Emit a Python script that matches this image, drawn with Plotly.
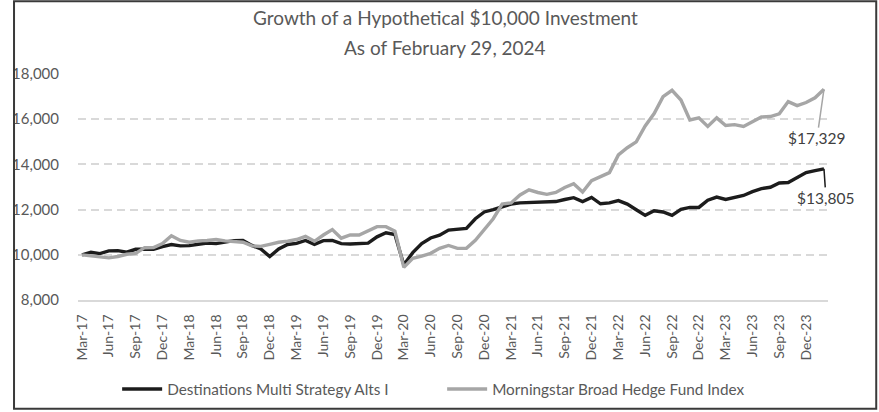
import pandas as pd
import plotly.graph_objects as go

months = [d.strftime("%b-%y") for d in pd.date_range("2017-03-01", "2024-02-01", freq="MS")]

fund_name = "Destinations Multi Strategy Alts I"
index_name = "Morningstar Broad Hedge Fund Index"

fund_values = [
    10000, 10120, 10060, 10180, 10190, 10120, 10250, 10240, 10250, 10370,
    10460, 10400, 10410, 10470, 10520, 10500, 10560, 10630, 10640, 10420,
    10260, 9930, 10260, 10460, 10510, 10640, 10470, 10630, 10640, 10500,
    10480, 10500, 10520, 10800, 10980, 10900, 9560, 10100, 10500, 10750,
    10870, 11100, 11150, 11170, 11600, 11900, 12000, 12140, 12250, 12300,
    12320, 12330, 12330, 12360, 12450, 12530, 12360, 12540, 12260, 12300,
    12400, 12250, 12000, 11750, 11950, 11900, 11750, 12020, 12100, 12100,
    12420, 12560, 12450, 12550, 12630, 12800, 12930, 12990, 13180, 13200,
    13420, 13640, 13730, 13805,
]

index_values = [
    10000, 9960, 9940, 9870, 9930, 10030, 10070, 10320, 10330, 10500,
    10850, 10640, 10560, 10620, 10640, 10680, 10620, 10580, 10560, 10400,
    10380, 10470, 10560, 10610, 10680, 10820, 10600, 10880, 11120, 10740,
    10880, 10880, 11080, 11250, 11250, 11050, 9450, 9850, 9950, 10070,
    10290, 10420, 10290, 10290, 10650, 11130, 11600, 12250, 12300, 12650,
    12880, 12760, 12680, 12760, 12980, 13150, 12780, 13280, 13460, 13640,
    14420, 14740, 15000, 15700, 16250, 17000, 17280, 16850, 15970, 16060,
    15680, 16060, 15720, 15760, 15680, 15900, 16100, 16120, 16240, 16780,
    16600, 16740, 16950, 17329,
]

tick_labels = months[0:82:3]
y_ticks = [8000, 10000, 12000, 14000, 16000, 18000]
title_lines = ["Growth of a Hypothetical $10,000 Investment", "As of February 29, 2024"]

FONT = "Lato"
TXT = "#595959"
GRID = "#d9d9d9"

fig = go.Figure()
fig.add_trace(go.Scatter(x=months, y=fund_values, mode="lines", name=fund_name,
                         line=dict(color="#1c1c1c", width=3.4)))
fig.add_trace(go.Scatter(x=months, y=index_values, mode="lines", name=index_name,
                         line=dict(color="#a6a6a6", width=3.4)))

L, R, T, B = 66, 51, 74, 111
W, H = 879, 412
pw, ph = W - L - R, H - T - B

def px_to_paper_x(px):
    return (px - L) / pw

def px_to_paper_y(py):
    return (H - B - py) / ph

fig.update_layout(
    width=W, height=H,
    margin=dict(l=L, r=R, t=T, b=B),
    paper_bgcolor="white", plot_bgcolor="white",
    font=dict(family=FONT, color=TXT, size=14),
    showlegend=True,
    legend=dict(orientation="h", x=0.503, xref="container", xanchor="center",
                y=1 - 389 / H, yref="container", yanchor="middle",
                font=dict(family=FONT, size=15.3, color=TXT),
                itemwidth=40, entrywidth=270, tracegroupgap=0, bgcolor="rgba(0,0,0,0)"),
    xaxis=dict(type="category", range=[-0.45, len(months) - 1 + 0.45],
               tickmode="array", tickvals=tick_labels, ticktext=tick_labels,
               tickangle=-90, tickfont=dict(family=FONT, size=14, color=TXT),
               showgrid=False, showline=True, linecolor=GRID, linewidth=1.5,
               ticks="", ticklabelstandoff=7, zeroline=False),
    yaxis=dict(range=[8000, 18000], tickvals=y_ticks, tickformat=",",
               tickfont=dict(family=FONT, size=15, color=TXT),
               showgrid=True, gridcolor=GRID, gridwidth=1.5, griddash="8px,5px",
               zeroline=False, showline=False,
               ticks="outside", ticklen=15, tickcolor="rgba(0,0,0,0)"),
)

for line, ypx in zip(title_lines, [17, 47]):
    fig.add_annotation(text=line, xref="paper", yref="paper",
                       x=px_to_paper_x(439), y=px_to_paper_y(ypx),
                       xanchor="center", yanchor="middle", showarrow=False,
                       font=dict(family=FONT, size=19, color=TXT))

fig.add_annotation(x=months[-1], y=index_values[-1], text="$17,329", showarrow=True,
                   arrowhead=0, arrowwidth=1.5, arrowcolor="#a6a6a6", ax=-7, ay=49,
                   font=dict(family=FONT, size=15.5, color="#404040"))
fig.add_annotation(x=months[-1], y=fund_values[-1], text="$13,805", showarrow=True,
                   arrowhead=0, arrowwidth=1.5, arrowcolor="#1c1c1c", ax=2, ay=29,
                   font=dict(family=FONT, size=15.5, color="#404040"))

fig.add_shape(type="rect", xref="paper", yref="paper",
              x0=px_to_paper_x(1), x1=px_to_paper_x(877),
              y0=px_to_paper_y(410), y1=px_to_paper_y(1),
              line=dict(color="#3a3a3a", width=2), fillcolor="rgba(0,0,0,0)", layer="above")

fig.write_html("out.html", config={"displayModeBar": False},
               post_script="document.body.style.margin='0';")
